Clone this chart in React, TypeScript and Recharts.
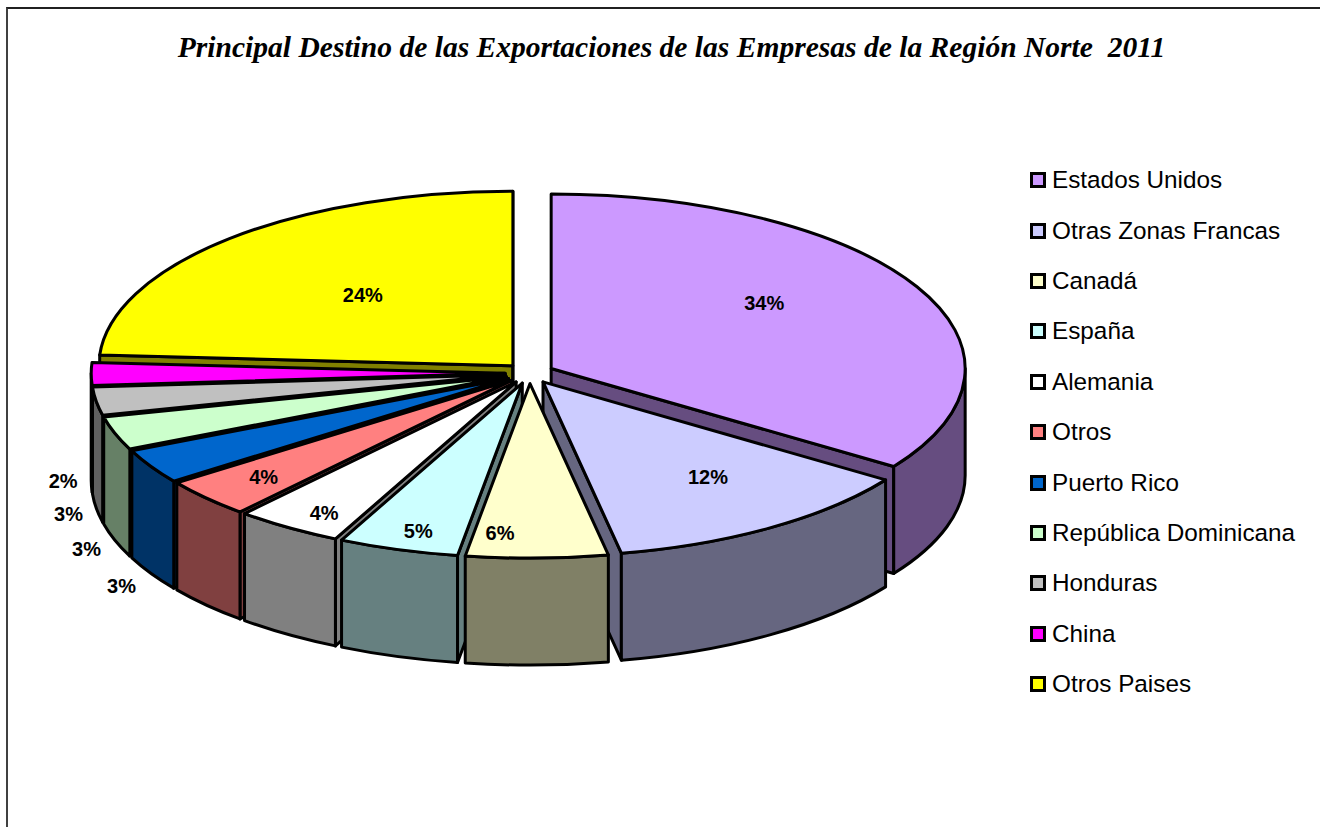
import { Legend, Pie, PieChart } from "recharts";

const TITLE = "Principal Destino de las Exportaciones de las Empresas de la Región Norte  2011";

const categories = [
  "Estados Unidos",
  "Otras Zonas Francas",
  "Canadá",
  "España",
  "Alemania",
  "Otros",
  "Puerto Rico",
  "República Dominicana",
  "Honduras",
  "China",
  "Otros Paises",
];
// they round to the printed percentages
const shares = [34.49, 12.48, 5.53, 4.69, 4.2, 3.6, 3.2, 3.1, 2.6, 2.1, 24.01];
const colors = [
  "#CC99FF",
  "#CCCCFF",
  "#FFFFCC",
  "#CCFFFF",
  "#FFFFFF",
  "#FF8080",
  "#0066CC",
  "#CCFFCC",
  "#C0C0C0",
  "#FF00FF",
  "#FFFF00",
];

// label centre relative to the slice tip
const labelOffsets: Record<string, [number, number]> = {
  "Estados Unidos": [213, -65],
  "Otras Zonas Francas": [165, 95],
  "Canadá": [-30, 149],
  "España": [-104, 148],
  "Alemania": [-192, 131],
  "Otros": [-248, 97],
  "Puerto Rico": [-387, 208],
  "República Dominicana": [-420, 172],
  "Honduras": [-437, 139],
  "China": [-442, 108],
  "Otros Paises": [-150, -71],
};

const CX = 529.6;
const CY = 373.3;
const RADIUS = 414;
const TILT = 0.4215;
const DEPTH = 107;
const EXPLODE = 24.4;

const table = categories.map((name, i) => ({ name, value: shares[i], fill: colors[i] }));

// painted back to front: the left side runs counter-clockwise from the top,
// the right side clockwise, so nearer slices always cover farther ones
const leftSlices = table.slice(3).reverse();
const rightSlices = table.slice(0, 3);
const leftTotal = leftSlices.reduce((sum, d) => sum + d.value, 0);
const rightTotal = rightSlices.reduce((sum, d) => sum + d.value, 0);

const rad = (deg: number) => (deg * Math.PI) / 180;

const shade = (hex: string) => {
  const n = parseInt(hex.slice(1), 16);
  const half = (v: number) => Math.round(v / 2);
  return `rgb(${half((n >> 16) & 255)},${half((n >> 8) & 255)},${half(n & 255)})`;
};

const tipOf = (cx: number, cy: number, mid: number) => ({
  x: cx + EXPLODE * Math.cos(rad(mid)),
  y: cy - EXPLODE * TILT * Math.sin(rad(mid)),
});

const SliceShape = (props: any) => {
  const { cx, cy, startAngle, endAngle, outerRadius, fill } = props;
  const lo = Math.min(startAngle, endAngle);
  const hi = Math.max(startAngle, endAngle);
  const tip = tipOf(cx, cy, (lo + hi) / 2);
  const rx = outerRadius;
  const ry = outerRadius * TILT;
  const at = (deg: number) => ({
    x: tip.x + rx * Math.cos(rad(deg)),
    y: tip.y - ry * Math.sin(rad(deg)),
  });
  const arc = (to: { x: number; y: number }, sweep: number, large = 0) =>
    `A${rx} ${ry} 0 ${large} ${sweep} ${to.x} ${to.y}`;

  const wallFill = shade(fill);
  const common = { stroke: "#000", strokeWidth: 3, strokeLinejoin: "round" as const };

  const radialWall = (deg: number) => {
    const p = at(deg);
    return `M${tip.x} ${tip.y}L${p.x} ${p.y}L${p.x} ${p.y + DEPTH}L${tip.x} ${tip.y + DEPTH}Z`;
  };

  // the rim only shows on the front half of the ellipse
  const from = lo < 0 ? lo + 360 : lo;
  const to = from + (hi - lo);
  const rimLo = Math.max(from, 180);
  const rimHi = Math.min(to, 360);
  let rim = "";
  if (rimHi > rimLo) {
    const a = at(rimLo);
    const b = at(rimHi);
    rim = `M${a.x} ${a.y}${arc(b, 0)}L${b.x} ${b.y + DEPTH}${arc({ x: a.x, y: a.y + DEPTH }, 1)}Z`;
  }

  const a = at(lo);
  const b = at(hi);
  const top = `M${tip.x} ${tip.y}L${a.x} ${a.y}${arc(b, 0, hi - lo > 180 ? 1 : 0)}Z`;

  return (
    <g>
      {Math.cos(rad(hi)) < 0 && <path d={radialWall(hi)} fill={wallFill} {...common} />}
      {Math.cos(rad(lo)) > 0 && <path d={radialWall(lo)} fill={wallFill} {...common} />}
      {rim && <path d={rim} fill={wallFill} {...common} />}
      <path d={top} fill={fill} {...common} />
    </g>
  );
};

const SliceLabel = (props: any) => {
  const { cx, cy, midAngle, name, value } = props;
  const tip = tipOf(cx, cy, midAngle);
  const [dx, dy] = labelOffsets[name];
  return (
    <text
      x={tip.x + dx}
      y={tip.y + dy}
      textAnchor="middle"
      dominantBaseline="central"
      fontFamily="Liberation Sans"
      fontWeight="bold"
      fontSize={20}
      fill="#000"
    >
      {Math.round(value)}%
    </text>
  );
};

const LegendList = () => (
  <div>
    {categories.map((name, i) => (
      <div key={name} style={{ height: 50.4, display: "flex", alignItems: "center" }}>
        <span
          style={{
            width: 10,
            height: 10,
            marginRight: 6,
            border: "3px solid #000",
            background: colors[i],
            display: "inline-block",
          }}
        />
        <span style={{ fontFamily: "Liberation Sans", fontSize: 24.3, color: "#000", whiteSpace: "nowrap" }}>
          {name}
        </span>
      </div>
    ))}
  </div>
);

export default function App() {
  return (
    <div style={{ position: "absolute", left: 0, top: 0, width: 1320, height: 827, overflow: "hidden", background: "#fff" }}>
      <div
        style={{
          position: "absolute",
          left: 6,
          top: 7,
          width: 1320,
          height: 830,
          borderLeft: "2px solid #404040",
          borderTop: "2px solid #202020",
        }}
      />
      <div style={{ position: "absolute", left: 0, top: 0 }}>
        <PieChart width={1320} height={827} margin={{ top: 0, right: 0, bottom: 0, left: 0 }}>
          <text
            x={671.5}
            y={47}
            textAnchor="middle"
            dominantBaseline="central"
            fontFamily="Liberation Serif"
            fontStyle="italic"
            fontWeight="bold"
            fontSize={29.55}
            xmlSpace="preserve"
            fill="#000"
          >
            {TITLE}
          </text>
          <Pie
            data={leftSlices}
            dataKey="value"
            nameKey="name"
            cx={CX}
            cy={CY}
            innerRadius={0}
            outerRadius={RADIUS}
            startAngle={90}
            endAngle={90 + leftTotal * 3.6}
            stroke="#000"
            shape={SliceShape}
            label={SliceLabel}
            labelLine={false}
            isAnimationActive={false}
          />
          <Pie
            data={rightSlices}
            dataKey="value"
            nameKey="name"
            cx={CX}
            cy={CY}
            innerRadius={0}
            outerRadius={RADIUS}
            startAngle={90}
            endAngle={90 - rightTotal * 3.6}
            stroke="#000"
            shape={SliceShape}
            label={SliceLabel}
            labelLine={false}
            isAnimationActive={false}
          />
          <Legend
            content={<LegendList />}
            wrapperStyle={{ position: "absolute", left: 1030, top: 155, width: 290, bottom: "auto" }}
          />
        </PieChart>
      </div>
    </div>
  );
}
